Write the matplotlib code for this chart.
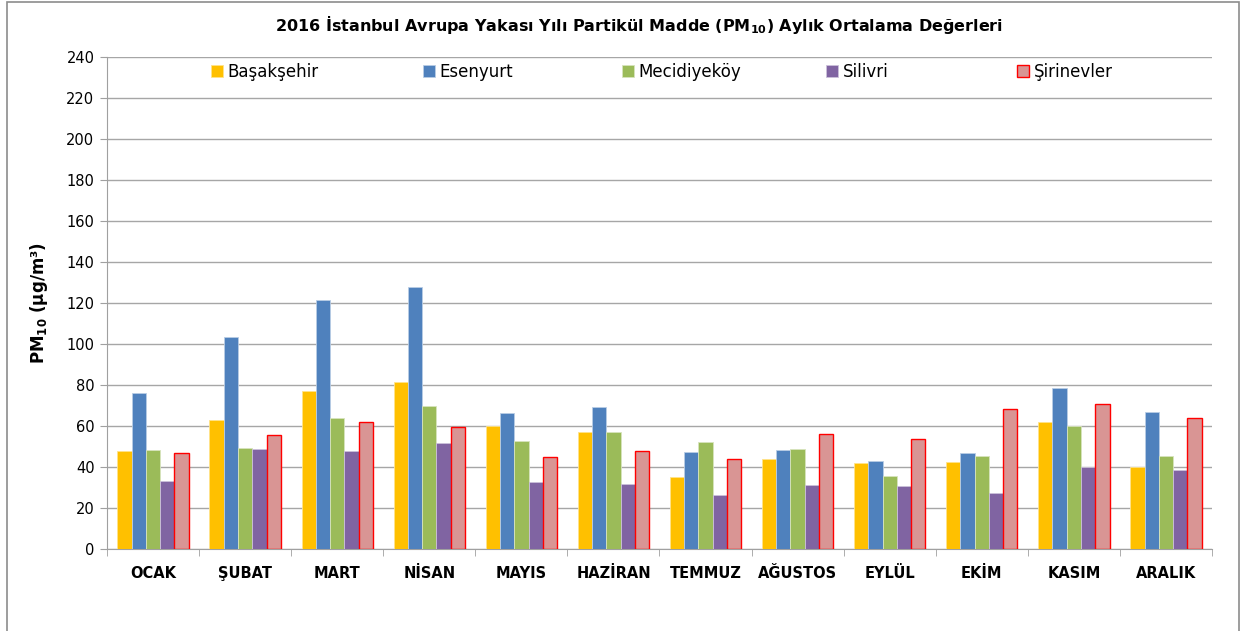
import matplotlib
matplotlib.use("Agg")
import matplotlib.pyplot as plt
import numpy as np
from matplotlib.patches import Rectangle
from matplotlib.legend import Legend

months = ["OCAK", "ŞUBAT", "MART", "NİSAN", "MAYIS", "HAZİRAN",
          "TEMMUZ", "AĞUSTOS", "EYLÜL", "EKİM", "KASIM", "ARALIK"]

basaksehir = [47.8, 62.8, 77.1, 81.5, 60.2, 57.2, 35.3, 44.1, 42.1, 42.6, 62.0, 40.0]
esenyurt = [75.9, 103.3, 121.6, 127.6, 66.5, 69.4, 47.3, 48.5, 42.9, 46.7, 78.7, 67.0]
mecidiyekoy = [48.3, 49.4, 63.9, 69.8, 52.5, 57.2, 52.0, 48.9, 35.8, 45.4, 60.0, 45.4]
silivri = [33.0, 48.6, 47.8, 51.7, 32.8, 31.7, 26.3, 31.2, 30.6, 27.3, 40.0, 38.5]
sirinevler = [47.0, 55.8, 61.8, 59.5, 45.0, 48.0, 44.1, 56.1, 53.7, 68.5, 70.6, 63.7]

series = [("Başakşehir", basaksehir, "#FFC000", "#FFE38A"),
          ("Esenyurt", esenyurt, "#4F81BD", "#B9CDE5"),
          ("Mecidiyeköy", mecidiyekoy, "#9BBB59", "#D7E4BD"),
          ("Silivri", silivri, "#8064A2", "#CCC1DA"),
          ("Şirinevler", sirinevler, "#D99594", "#FF0000")]

# legend marker x positions (pixels in the reference)
legend_px = [211, 423, 622, 826, 1017]

plt.rcParams['font.family'] = ['DejaVu Sans']
plt.rcParams['mathtext.default'] = 'bf'

fig = plt.figure(figsize=(12.42, 6.31), dpi=100)
ax = fig.add_axes([107/1242, 1 - 549/631, 1105/1242, 492/631])

# outer chart border
fig.patches.append(Rectangle((7/1242, -0.01), 1232/1242, 1 - 2/631 + 0.01,
                             transform=fig.transFigure, fill=False,
                             edgecolor="#8C8C8C", linewidth=1.2))

x = np.arange(len(months))
w = 0.155
handles = []
for i, (name, vals, col, edge) in enumerate(series):
    lw = 1.0 if name == "Şirinevler" else 0.6
    b = ax.bar(x + (i - 2) * w, vals, w, color=col, edgecolor=edge,
               linewidth=lw, label=name, zorder=3)
    handles.append(b)

ax.set_xlim(-0.5, len(months) - 0.5)
ax.set_ylim(0, 240)
ax.set_yticks(np.arange(0, 241, 20))
ax.set_xticks(x)
ax.set_xticklabels(months, fontsize=10.5, fontweight="bold")
ax.set_xticks(np.arange(-0.5, len(months), 1), minor=True)
ax.tick_params(axis="x", which="major", length=0, pad=12)
ax.tick_params(axis="x", which="minor", length=5, color="#A0A0A0", direction="out")
ax.tick_params(axis="y", labelsize=10.5, length=5, color="#A0A0A0", pad=4)
ax.grid(axis="y", color="#A6A6A6", linewidth=1.0, zorder=0)
for s in ["top", "right"]:
    ax.spines[s].set_visible(False)
ax.spines["left"].set_color("#A0A0A0")
ax.spines["bottom"].set_color("#A0A0A0")

ax.set_ylabel("PM$_{10}$ (µg/m³)", fontsize=12, fontweight="bold", labelpad=12)

for h, (name, *_), px in zip(handles, series, legend_px):
    lg = Legend(ax, [h], [name], loc="center left",
                bbox_to_anchor=((px - 107) / 1105, (549 - 72) / 492),
                frameon=False, fontsize=12, handlelength=0.7,
                handleheight=0.7, handletextpad=0.3,
                borderpad=0, borderaxespad=0)
    ax.add_artist(lg)

fig.text(639/1242, 1 - 25/631,
         "2016 İstanbul Avrupa Yakası Yılı Partikül Madde (PM$_{10}$) Aylık Ortalama Değerleri",
         ha="center", va="center", fontsize=11.5, fontweight="bold")

fig.savefig("out.png", dpi=100)
